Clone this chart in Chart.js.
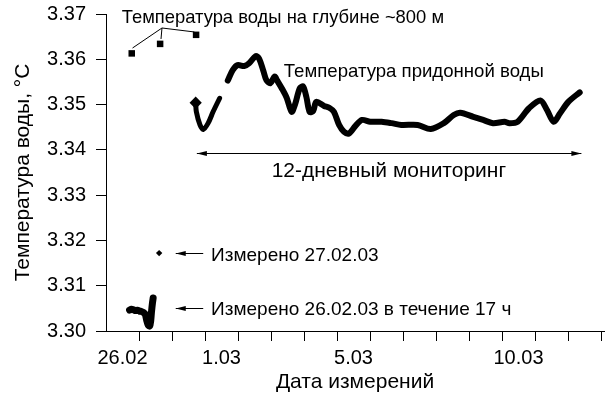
<!DOCTYPE html>
<html>
<head>
<meta charset="utf-8">
<style>
  html, body { margin: 0; padding: 0; background: #fff; }
  canvas { display: block; }
</style>
<script src="https://cdn.jsdelivr.net/npm/chart.js@4/dist/chart.umd.min.js"></script>
</head>
<body>
<canvas id="chart" width="613" height="398"></canvas>
<script>
// Time is counted in days from 26.02.2003 00:00.
const dayTicks = [1, 2, 3, 4, 5, 6, 7, 8, 9, 10, 11, 12, 13, 14, 15];
const dateLabels = ['26.02', '1.03', '5.03', '10.03'];
const dateLabelDays = [0.5, 3.5, 7.5, 12.5];
const tempTicks = [3.30, 3.31, 3.32, 3.33, 3.34, 3.35, 3.36, 3.37];

// Water temperature at ~800 m depth
const deepDays = [0.78, 1.64, 2.73];
const deepTemp = [3.3613, 3.3634, 3.3654];

// Single measurement on 27.02.03
const feb27Days = [1.61];
const feb27Temp = [3.3172];

// 17-hour record on 26.02.03
const feb26Days = [0.714, 0.774, 0.833, 0.893, 0.952, 1.012, 1.071, 1.131, 1.190,
                   1.235, 1.280, 1.324, 1.354, 1.378, 1.408, 1.429];
const feb26Temp = [3.3046, 3.3048, 3.3047, 3.3045, 3.3046, 3.3044, 3.3043, 3.3041, 3.3037,
                   3.3023, 3.3013, 3.3011, 3.3022, 3.3042, 3.3062, 3.3073];

// Near-bottom water temperature, 12-day monitoring (two pieces)
const bottomDaysA = [2.717, 2.738, 2.848, 2.946, 3.095, 3.244, 3.443];
const bottomTempA = [3.3504, 3.3484, 3.3455, 3.3445, 3.3459, 3.3484, 3.3514];

const bottomDaysB = [3.690, 3.839, 3.988, 4.188, 4.336, 4.533, 4.634, 4.762, 4.860, 4.979,
                     5.110, 5.179, 5.357, 5.476, 5.625, 5.723, 5.872, 5.973, 6.071, 6.170,
                     6.280, 6.369, 6.607, 6.765, 6.905, 7.063, 7.211, 7.360, 7.560, 7.759,
                     8.006, 8.354, 8.652, 8.949, 9.443, 9.842, 10.238, 10.536, 10.735, 11.131,
                     11.429, 11.726, 12.074, 12.223, 12.470, 12.818, 13.164, 13.363, 13.563, 13.759,
                     14.009, 14.354];
const bottomTempB = [3.3553, 3.3576, 3.3587, 3.3585, 3.3591, 3.3607, 3.3602, 3.3576, 3.3554, 3.3547,
                     3.3562, 3.3554, 3.3532, 3.3515, 3.3484, 3.3499, 3.3536, 3.3540, 3.3517, 3.3484,
                     3.3486, 3.3506, 3.3497, 3.3493, 3.3484, 3.3455, 3.3440, 3.3436, 3.3453, 3.3466,
                     3.3462, 3.3462, 3.3459, 3.3455, 3.3455, 3.3446, 3.3459, 3.3477, 3.3482, 3.3473,
                     3.3466, 3.3459, 3.3462, 3.3459, 3.3462, 3.3492, 3.3509, 3.3488, 3.3462, 3.3481,
                     3.3506, 3.3527];

const pairs = (xs, ys) => xs.map((x, i) => ({ x, y: ys[i] }));

const FONT = 'Liberation Sans, Arial, Helvetica, sans-serif';
const INK = '#000';

// Callouts, placed in axis units (days, °C)
const notes = {
  texts: [
    { text: 'Температура воды на глубине ~800 м', x: 0.476, y: 3.3680, size: 18.4, align: 'left' },
    { text: 'Температура придонной воды', x: 5.387, y: 3.3561, size: 18.6, align: 'left' },
    { text: '12-дневный мониторинг', x: 8.571, y: 3.3340, size: 21, align: 'center' },
    { text: 'Измерено 27.02.03', x: 3.185, y: 3.3155, size: 19, align: 'left' },
    { text: 'Измерено 26.02.03 в течение 17 ч', x: 3.185, y: 3.3036, size: 19, align: 'left' }
  ],
  leaders: [
    { from: [1.696, 3.36691], to: [0.804, 3.36249] },
    { from: [1.696, 3.36691], to: [1.667, 3.36448] },
    { from: [1.696, 3.36691], to: [2.679, 3.36603] }
  ],
  arrows: [
    { from: [2.753, 3.33925], to: [14.405, 3.33925], both: true },
    { from: [2.946, 3.31717], to: [2.113, 3.31717], both: false },
    { from: [2.946, 3.30517], to: [2.113, 3.30517], both: false }
  ]
};

function arrowHead(ctx, x0, y0, x1, y1) {
  const a = Math.atan2(y1 - y0, x1 - x0);
  const len = 10, half = 2.6;
  ctx.beginPath();
  ctx.moveTo(x1, y1);
  ctx.lineTo(x1 - len * Math.cos(a) + half * Math.sin(a), y1 - len * Math.sin(a) - half * Math.cos(a));
  ctx.lineTo(x1 - len * Math.cos(a) - half * Math.sin(a), y1 - len * Math.sin(a) + half * Math.cos(a));
  ctx.closePath();
  ctx.fill();
}

const calloutPlugin = {
  id: 'callouts',
  afterDatasetsDraw(chart) {
    const { ctx, scales: { x, y } } = chart;
    const px = v => x.getPixelForValue(v);
    const py = v => y.getPixelForValue(v);
    ctx.save();
    ctx.strokeStyle = INK;
    ctx.fillStyle = INK;
    ctx.lineWidth = 1;
    notes.leaders.forEach(l => {
      ctx.beginPath();
      ctx.moveTo(px(l.from[0]), py(l.from[1]));
      ctx.lineTo(px(l.to[0]), py(l.to[1]));
      ctx.stroke();
    });
    notes.arrows.forEach(a => {
      const x0 = px(a.from[0]), y0 = Math.round(py(a.from[1])) + 0.5;
      const x1 = px(a.to[0]), y1 = Math.round(py(a.to[1])) + 0.5;
      ctx.beginPath();
      ctx.moveTo(x0, y0);
      ctx.lineTo(x1, y1);
      ctx.stroke();
      arrowHead(ctx, x0, y0, x1, y1);
      if (a.both) arrowHead(ctx, x1, y1, x0, y0);
    });
    ctx.textBaseline = 'alphabetic';
    notes.texts.forEach(t => {
      ctx.font = t.size + 'px ' + FONT;
      ctx.textAlign = t.align;
      ctx.fillText(t.text, px(t.x), py(t.y));
    });
    ctx.restore();
  }
};

const common = { xAxisID: 'x', yAxisID: 'y', borderColor: INK, backgroundColor: INK };
const noEdgePadding = s => { s.paddingTop = 0; s.paddingBottom = 0; s.paddingLeft = 0; s.paddingRight = 0; };

new Chart(document.getElementById('chart'), {
  type: 'scatter',
  data: {
    datasets: [
      { ...common, label: 'deep', data: pairs(deepDays, deepTemp),
        pointStyle: 'rect', pointRadius: 4.6, borderWidth: 0 },
      { ...common, label: '27.02', data: pairs(feb27Days, feb27Temp),
        pointStyle: 'rectRot', pointRadius: 3.2, borderWidth: 0 },
      { ...common, label: '26.02', data: pairs(feb26Days, feb26Temp), showLine: true,
        borderWidth: 7, borderCapStyle: 'round', borderJoinStyle: 'round', tension: 0.2,
        pointRadius: 0 },
      { ...common, label: 'bottomA', data: pairs(bottomDaysA, bottomTempA), showLine: true,
        borderWidth: 5, borderCapStyle: 'round', borderJoinStyle: 'round', tension: 0.3,
        pointStyle: 'rectRot', pointRadius: [2.6, 0, 0, 0, 0, 0, 0] },
      { ...common, label: 'bottomB', data: pairs(bottomDaysB, bottomTempB), showLine: true,
        borderWidth: 6, borderCapStyle: 'round', borderJoinStyle: 'round', tension: 0.3,
        pointRadius: 0 }
    ]
  },
  options: {
    responsive: false,
    animation: false,
    events: [],
    devicePixelRatio: 1,
    layout: { padding: { left: 0, right: 0, top: 14, bottom: 0 } },
    plugins: { legend: { display: false }, tooltip: { enabled: false } },
    scales: {
      x: {
        type: 'linear', position: 'bottom', weight: 0, min: 0, max: 15.09,
        afterBuildTicks: s => { s.ticks = dayTicks.map(v => ({ value: v })); },
        afterFit: s => { s.height = 10; noEdgePadding(s); },
        ticks: { display: false },
        grid: { drawOnChartArea: false, tickLength: 10, color: INK, lineWidth: 1 },
        border: { color: INK, width: 1 }
      },
      x2: {
        type: 'linear', position: 'bottom', weight: 1, min: 0, max: 15.09,
        afterBuildTicks: s => { s.ticks = dateLabelDays.map(v => ({ value: v })); },
        afterFit: s => { s.height = 57; noEdgePadding(s); },
        ticks: {
          callback: (v, i) => dateLabels[i],
          font: { family: FONT, size: 20 }, color: INK, padding: 5,
          maxRotation: 0, autoSkip: false
        },
        grid: { display: false, drawTicks: false },
        border: { display: false },
        title: { display: true, text: 'Дата измерений', color: INK,
                 font: { family: FONT, size: 21 }, padding: { top: 0, bottom: 3 } }
      },
      y: {
        type: 'linear', position: 'left', min: 3.30, max: 3.37,
        afterBuildTicks: s => { s.ticks = tempTicks.map(v => ({ value: v })); },
        afterFit: s => { s.width = 106; noEdgePadding(s); },
        ticks: { callback: v => v.toFixed(2), font: { family: FONT, size: 20 }, color: INK, padding: 10 },
        grid: { drawOnChartArea: false, tickLength: 10, color: INK, lineWidth: 1 },
        border: { color: INK, width: 1 },
        title: { display: true, text: 'Температура воды, °C', color: INK,
                 font: { family: FONT, size: 21 }, padding: { top: 11, bottom: 0 } }
      }
    }
  },
  plugins: [calloutPlugin]
});
</script>
</body>
</html>
